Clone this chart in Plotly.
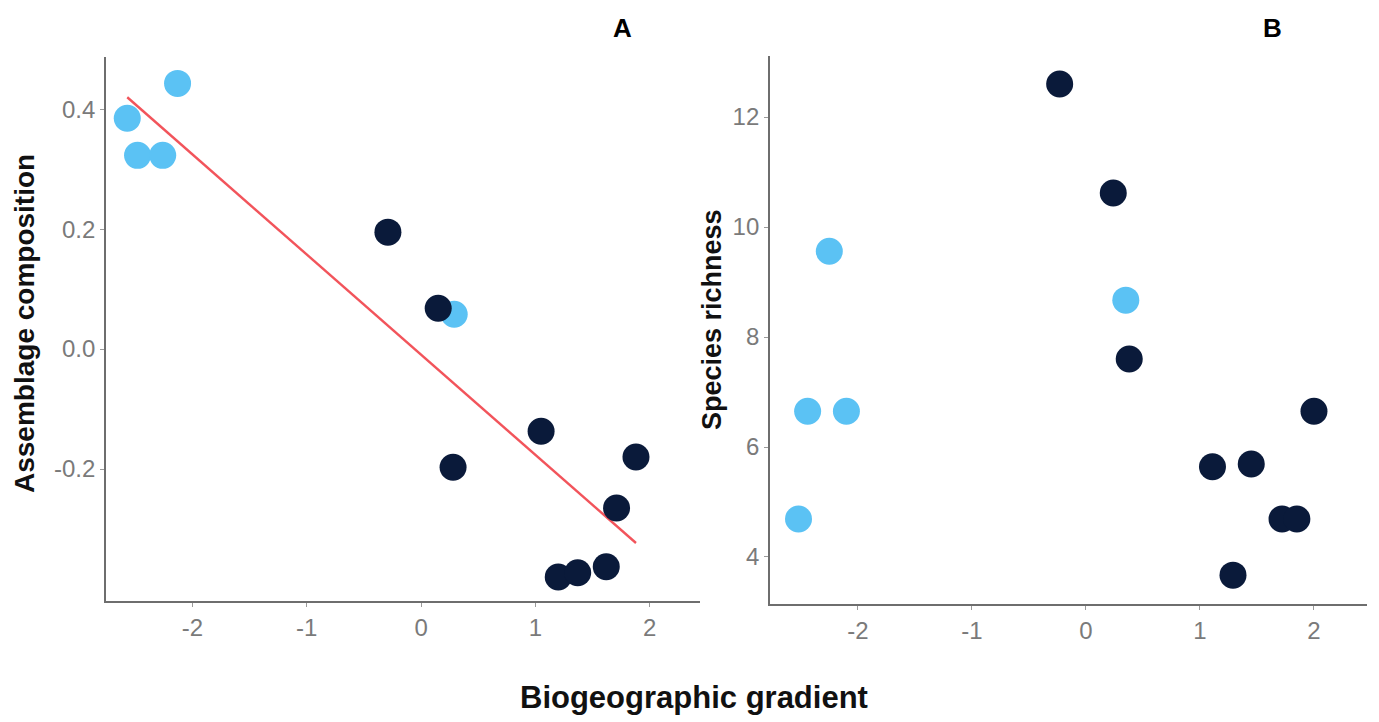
import numpy as np
import plotly.graph_objects as go

# ---- Panel A: assemblage composition vs biogeographic gradient ----
a_light_x = [-2.57, -2.48, -2.26, -2.13, 0.29]
a_light_y = [0.385, 0.323, 0.323, 0.443, 0.058]
a_dark_x = [-0.29, 0.15, 0.28, 1.05, 1.88, 1.71, 1.20, 1.37, 1.62]
a_dark_y = [0.195, 0.068, -0.197, -0.137, -0.18, -0.265, -0.38, -0.373, -0.363]

# ---- Panel B: species richness vs biogeographic gradient ----
b_light_x = [-2.52, -2.44, -2.10, -2.25, 0.35]
b_light_y = [4.69, 6.65, 6.65, 9.56, 8.67]
b_dark_x = [-0.23, 0.24, 0.38, 2.00, 1.11, 1.45, 1.72, 1.85, 1.29]
b_dark_y = [12.6, 10.62, 7.6, 6.65, 5.64, 5.69, 4.69, 4.69, 3.67]

x_ticks = [-2, -1, 0, 1, 2]
x_ticktext = ["-2", "-1", "0", "1", "2"]
a_y_ticks = [-0.2, 0.0, 0.2, 0.4]
a_y_ticktext = ["-0.2", "0.0", "0.2", "0.4"]
b_y_ticks = [4, 6, 8, 10, 12]
b_y_ticktext = ["4", "6", "8", "10", "12"]

LIGHT = "#5bc2f4"
DARK = "#0a1a3a"
RED = "#f2545b"
FONT = "Liberation Sans, Arial, sans-serif"

W, H = 1379, 722

fig = go.Figure()

# Linear fit on panel A (all points)
all_x = np.array(a_light_x + a_dark_x)
all_y = np.array(a_light_y + a_dark_y)
slope, intercept = np.polyfit(all_x, all_y, 1)
fx = np.array([all_x.min(), all_x.max()])
fig.add_trace(go.Scatter(x=fx, y=slope * fx + intercept, mode="lines",
                         line=dict(color=RED, width=2.4), xaxis="x", yaxis="y",
                         showlegend=False, hoverinfo="skip"))

mk = dict(size=27, line=dict(width=0))
fig.add_trace(go.Scatter(x=a_light_x, y=a_light_y, mode="markers",
                         marker=dict(color=LIGHT, **mk), xaxis="x", yaxis="y", showlegend=False))
fig.add_trace(go.Scatter(x=a_dark_x, y=a_dark_y, mode="markers",
                         marker=dict(color=DARK, **mk), xaxis="x", yaxis="y", showlegend=False))
fig.add_trace(go.Scatter(x=b_light_x, y=b_light_y, mode="markers",
                         marker=dict(color=LIGHT, **mk), xaxis="x2", yaxis="y2", showlegend=False))
fig.add_trace(go.Scatter(x=b_dark_x, y=b_dark_y, mode="markers",
                         marker=dict(color=DARK, **mk), xaxis="x2", yaxis="y2", showlegend=False))


def px_x(p):
    return p / W


def px_y(p):
    return 1 - p / H


axis_common = dict(showgrid=False, zeroline=False, showline=True, linecolor="#6e6e6e",
                   linewidth=1.8, ticks="outside", ticklen=4, tickcolor="#9a9a9a",
                   tickwidth=1, tickfont=dict(family=FONT, size=24, color="#7a7a7a"),
                   mirror=False)

fig.update_layout(
    width=W, height=H,
    margin=dict(l=0, r=0, t=0, b=0),
    paper_bgcolor="white", plot_bgcolor="white",
    xaxis=dict(domain=[px_x(106), px_x(700)], range=[-2.756, 2.44], anchor="y",
               tickvals=x_ticks, ticktext=x_ticktext, **axis_common),
    yaxis=dict(domain=[px_y(601), px_y(57)], range=[-0.42, 0.487], anchor="x",
               tickvals=a_y_ticks, ticktext=a_y_ticktext, **axis_common),
    xaxis2=dict(domain=[px_x(770), px_x(1367)], range=[-2.77, 2.465], anchor="y2",
                tickvals=x_ticks, ticktext=x_ticktext, **axis_common),
    yaxis2=dict(domain=[px_y(604), px_y(56)], range=[3.145, 13.11], anchor="x2",
                tickvals=b_y_ticks, ticktext=b_y_ticktext, **axis_common),
    annotations=[
        dict(text="<b>A</b>", x=px_x(622), y=px_y(28), xref="paper", yref="paper",
             xanchor="center", yanchor="middle",
             showarrow=False, font=dict(family=FONT, size=26, color="black")),
        dict(text="<b>B</b>", x=px_x(1272), y=px_y(28), xref="paper", yref="paper",
             xanchor="center", yanchor="middle",
             showarrow=False, font=dict(family=FONT, size=26, color="black")),
        dict(text="<b>Assemblage composition</b>", x=px_x(25), y=px_y(324), xref="paper",
             yref="paper", xanchor="center", yanchor="middle", showarrow=False, textangle=-90,
             font=dict(family=FONT, size=28, color="#111")),
        dict(text="<b>Species richness</b>", x=px_x(712), y=px_y(320), xref="paper",
             yref="paper", xanchor="center", yanchor="middle", showarrow=False, textangle=-90,
             font=dict(family=FONT, size=27, color="#111")),
        dict(text="<b>Biogeographic gradient</b>", x=px_x(694), y=px_y(697), xref="paper",
             yref="paper", xanchor="center", yanchor="middle", showarrow=False,
             font=dict(family=FONT, size=31, color="#111")),
    ],
)

fig.write_html("out.html", post_script="document.body.style.margin='0';",
               config={"displayModeBar": False})
